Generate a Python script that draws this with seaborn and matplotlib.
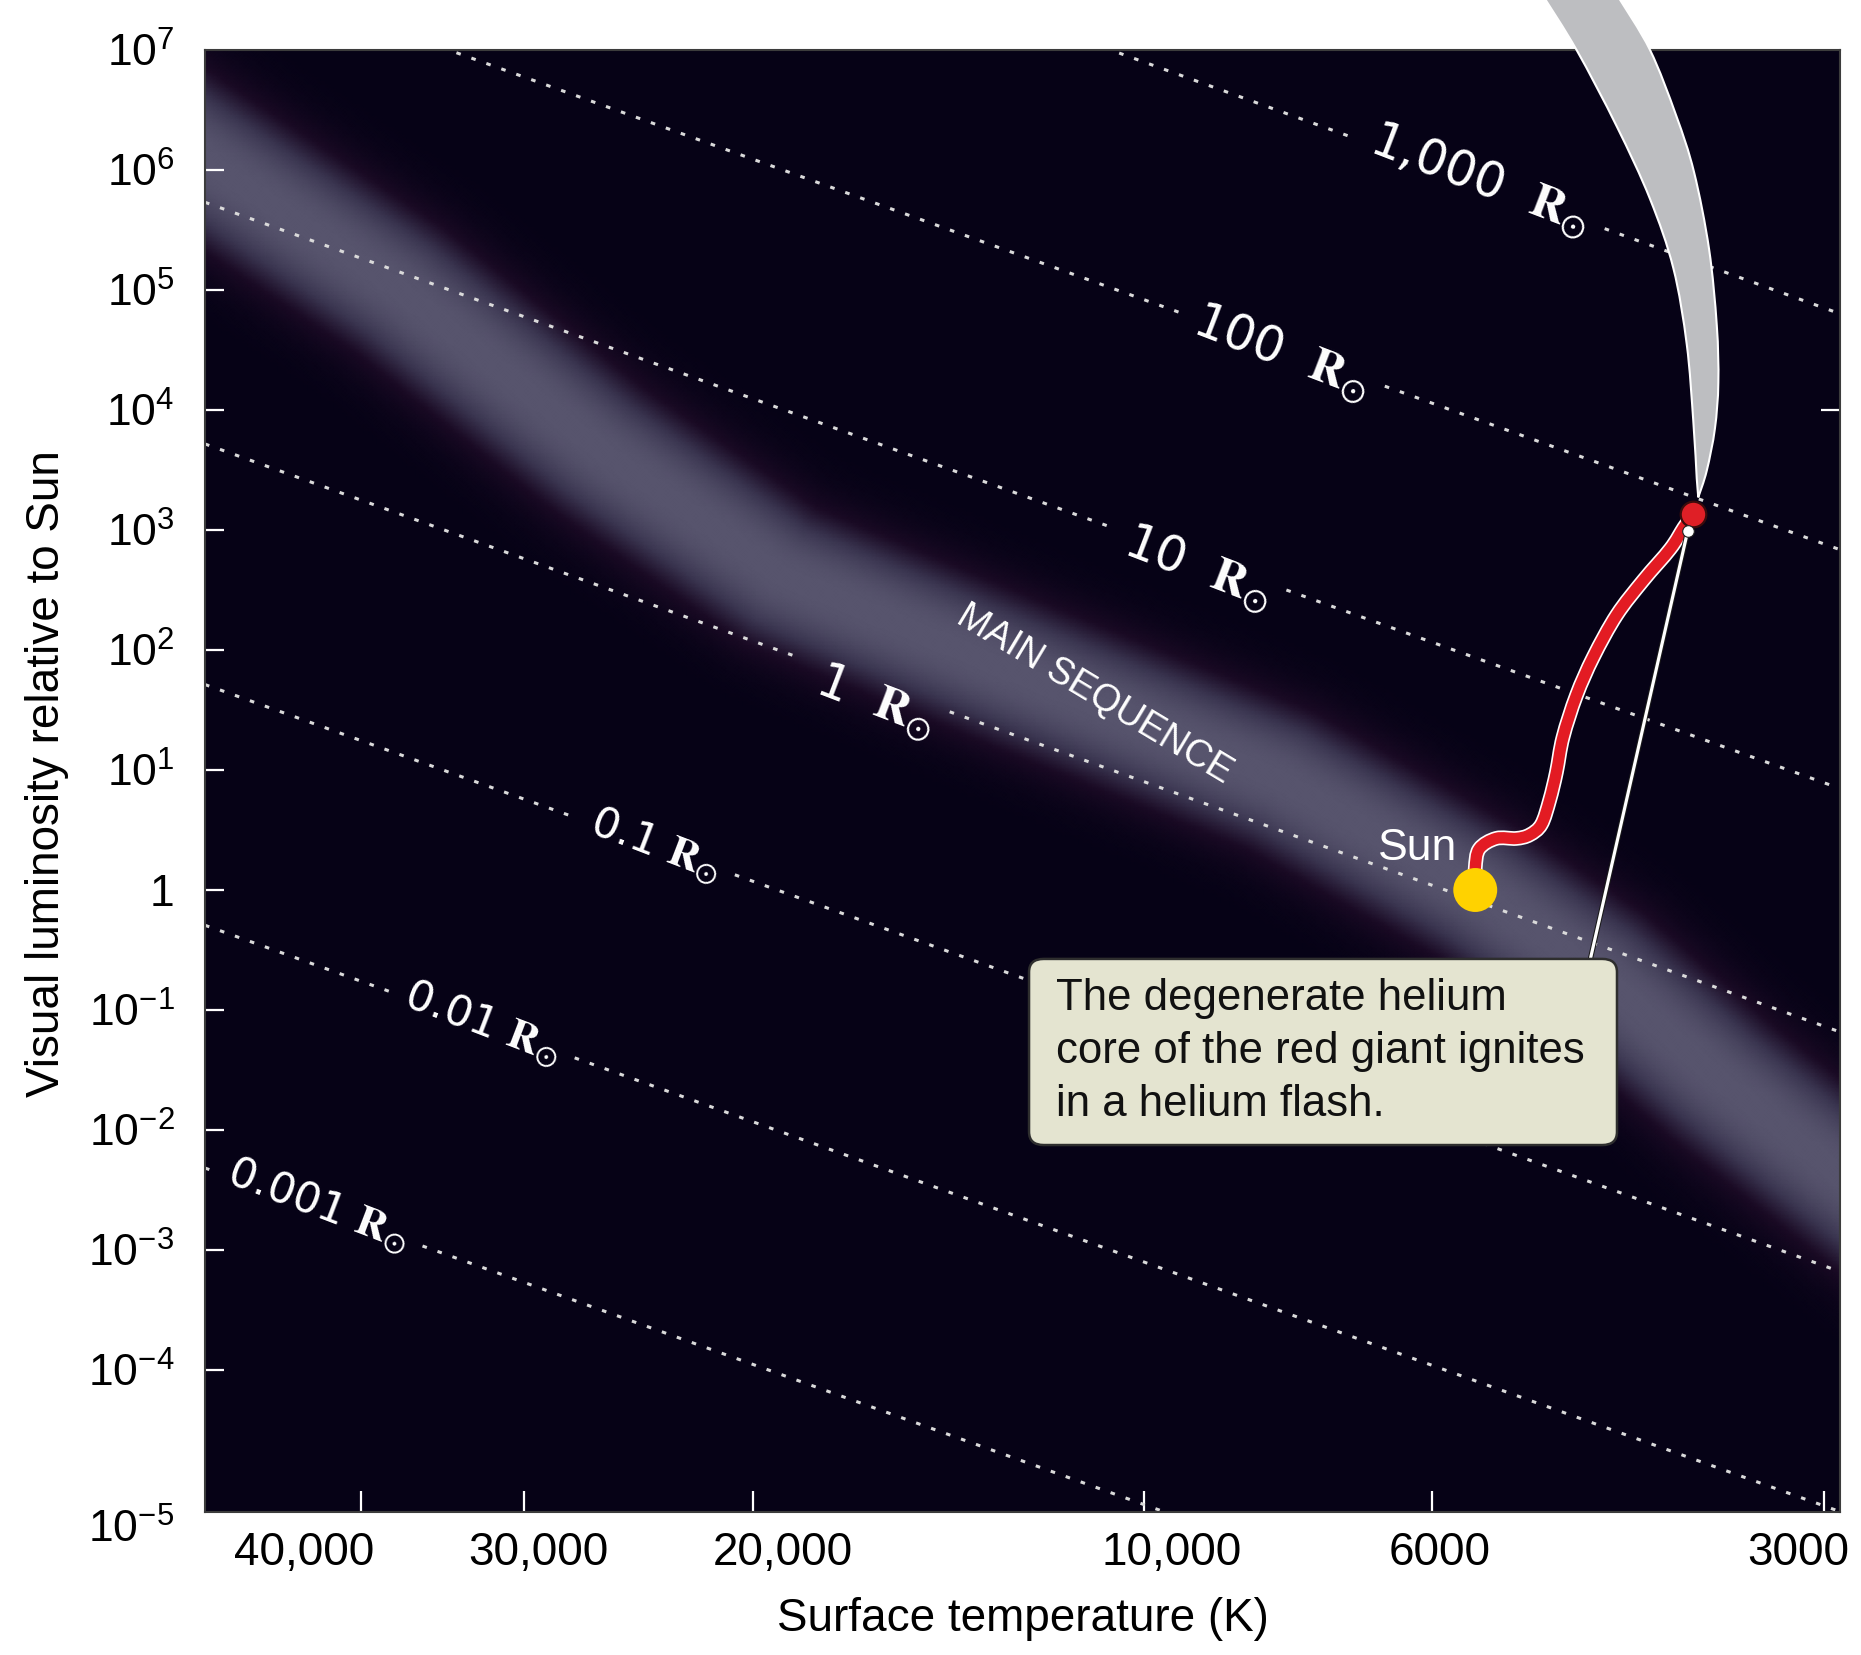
import numpy as np
import matplotlib
matplotlib.use("Agg")
import matplotlib.pyplot as plt
import matplotlib.patheffects as pe
from matplotlib.colors import LinearSegmentedColormap
from matplotlib.patches import FancyBboxPatch, PathPatch
from matplotlib.path import Path
from matplotlib.ticker import NullLocator
from matplotlib.transforms import ScaledTranslation
import seaborn as sns

# ---------------- data ----------------
temp_ticks = [40000, 30000, 20000, 10000, 6000, 3000]
temp_tick_labels = ["40,000", "30,000", "20,000", "10,000", "6000", "3000"]
lum_ticks = [1e6, 1e5, 1e4, 1e3, 1e2, 1e1, 1, 1e-1, 1e-2, 1e-3, 1e-4]
lum_tick_labels = [r"$\mathregular{10^{6}}$", r"$\mathregular{10^{5}}$", r"$\mathregular{10^{4}}$",
                   r"$\mathregular{10^{3}}$", r"$\mathregular{10^{2}}$", r"$\mathregular{10^{1}}$",
                   "1", r"$\mathregular{10^{-1}}$", r"$\mathregular{10^{-2}}$",
                   r"$\mathregular{10^{-3}}$", r"$\mathregular{10^{-4}}$"]
lum_edge_ticks = [1e7, 10 ** -5.18]
lum_edge_labels = [r"$\mathregular{10^{7}}$", r"$\mathregular{10^{-5}}$"]
T_LIMITS = (52770, 2915)
L_LIMITS = (10 ** -5.1833, 1e7)

# lines of constant radius: log10 luminosity at the hot and cool ends of the axis
radius_labels = ["1,000", "100", "10", "1", "0.1", "0.01", "0.001"]
radius_loglum_hot = [9.73, 7.73, 5.731, 3.717, 1.712, -0.294, -2.317]
radius_loglum_cool = [4.802, 2.836, 0.846, -1.183, -3.18, -5.18, -7.2]
radius_label_temp = [5514, 7833, 9089, 16080, 23740, 32250, 43190]
radius_label_lum = [8.26e5, 3.01e4, 482, 36.9, 2.37, 0.078, 0.00237]

# ridge of the main sequence
ms_temp = [75900, 52770, 37360, 26210, 19050, 12240, 7860, 5565, 4460, 3605, 2915, 2357]
ms_lum = [1.68e7, 1.21e6, 1e5, 4640, 422, 57.3, 8.26, 1.0, 0.196, 0.0261, 0.00422, 6.8e-4]

# red-giant / asymptotic-giant region (grey crescent)
giant_outer_temp = [4320, 4081, 3898, 3775, 3676, 3626, 3616, 3638, 3691, 3747]
giant_outer_lum = [2.8e7, 1.0e7, 2.88e6, 9.6e5, 2.2e5, 5.08e4, 1.69e4, 7.0e3, 3.12e3, 1.87e3]
giant_inner_temp = [4930, 4648, 4329, 4081, 3916, 3824, 3780, 3757]
giant_inner_lum = [2.8e7, 1.0e7, 2.31e6, 5.73e5, 1.52e5, 3.52e4, 8.1e3, 2.69e3]

# evolutionary track of the Sun up the red-giant branch
track_temp = [5562, 5562, 5523, 5360, 5173, 5051, 4947, 4875, 4817, 4761, 4649,
              4512, 4329, 4129, 3937, 3845, 3790]
track_lum = [1.0, 1.52, 2.20, 2.69, 2.69, 2.88, 3.52, 5.62, 9.6, 18.8, 41.9,
             87.5, 196, 382, 698, 1043, 1300]

sun_temp, sun_lum = 5562, 1.0
flash_temp, flash_lum = 3780, 1360
core_temp, core_lum = 3817, 990
pointer_temp, pointer_lum = 4536, 0.266

note_text = "The degenerate helium\ncore of the red giant ignites\nin a helium flash."

# ---------------- style ----------------
sns.set_theme(style="white")
plt.rcParams["font.family"] = ["Liberation Sans", "DejaVu Sans"]
plt.rcParams["mathtext.fontset"] = "stix"

BG = "#060216"
W, H = 1861, 1655
fig = plt.figure(figsize=(W / 100, H / 100), dpi=100)
fig.patch.set_facecolor("white")
ax = fig.add_axes([205 / W, 1 - 1512 / H, 1635 / W, 1462 / H])
ax.set_facecolor(BG)
ax.set_xscale("log")
ax.set_yscale("log")
ax.set_xlim(*T_LIMITS)
ax.set_ylim(*L_LIMITS)


def smooth_path(temps, lums):
    """Catmull-Rom curve through the points, as cubic Bezier segments in log space."""
    P = np.column_stack([np.log10(temps), np.log10(lums)])
    n = len(P)
    verts, codes = [P[0]], [Path.MOVETO]
    for i in range(n - 1):
        p0 = P[i - 1] if i > 0 else P[i]
        p1, p2 = P[i], P[i + 1]
        p3 = P[i + 2] if i + 2 < n else P[i + 1]
        verts += [p1 + (p2 - p0) / 6, p2 - (p3 - p1) / 6, p2]
        codes += [Path.CURVE4] * 3
    return np.power(10.0, np.array(verts)), codes


# ---------------- main-sequence glow ----------------
tg = np.geomspace(90000, 2000, 500)
lg = np.geomspace(1e-7, 1e9, 500)
TT, LL = np.meshgrid(tg, lg)
pts = ax.transData.transform(np.column_stack([TT.ravel(), LL.ravel()]))
ridge = ax.transData.transform(np.column_stack([ms_temp, ms_lum]))
dist = np.full(len(pts), np.inf)
for a, b in zip(ridge[:-1], ridge[1:]):
    ab = b - a
    t = np.clip(((pts - a) @ ab) / (ab @ ab), 0, 1)
    proj = a + t[:, None] * ab
    dist = np.minimum(dist, np.hypot(*(pts - proj).T))
glow = np.exp(-(dist / 74.0) ** 2.6).reshape(TT.shape)
glow_cmap = LinearSegmentedColormap.from_list(
    "ms_glow", [BG, "#1a0a24", "#3a3550", "#57546d"])
ax.pcolormesh(TT, LL, glow, cmap=glow_cmap, vmin=0, vmax=1,
              shading="gouraud", zorder=0, rasterized=True)

# ---------------- constant-radius lines with their labels ----------------
radius_texts = []
for lab, t, l in zip(radius_labels, radius_label_temp, radius_label_lum):
    big = float(lab.replace(",", "")) >= 1
    txt = lab + (r"  $\mathbf{R}_{\odot}$" if big else r" $\mathbf{R}_{\odot}$")
    radius_texts.append(ax.text(t, l, txt, rotation=-21, rotation_mode="anchor",
                                ha="center", va="center", color="white",
                                fontsize=35 if big else 31, family=["DejaVu Sans"],
                                zorder=3))

ax.text(10925, 43, "MAIN SEQUENCE", rotation=-31, rotation_mode="anchor",
        ha="center", va="center", color="white", fontsize=27, zorder=3)

fig.canvas.draw()
renderer = fig.canvas.get_renderer()
inv = ax.transData.inverted()
logT_hot, logT_cool = np.log10(T_LIMITS[0]), np.log10(T_LIMITS[1])
for lh, lc, txt in zip(radius_loglum_hot, radius_loglum_cool, radius_texts):
    bb = txt.get_window_extent(renderer)
    gap_hot = inv.transform([[bb.x0 - 7, bb.y0]])[0, 0]
    gap_cool = inv.transform([[bb.x1 + 7, bb.y0]])[0, 0]
    for t0, t1 in [(T_LIMITS[0], gap_hot), (gap_cool, T_LIMITS[1])]:
        seg_T = np.array([t0, t1])
        frac = (np.log10(seg_T) - logT_hot) / (logT_cool - logT_hot)
        seg_L = 10 ** (lh + (lc - lh) * frac)
        sns.lineplot(x=seg_T, y=seg_L, ax=ax, color="#dadada", lw=2.2,
                     linestyle=(0, (1.5, 3.7)), estimator=None, sort=False,
                     legend=False, zorder=2)

# ---------------- giant region ----------------
ov, oc = smooth_path(giant_outer_temp, giant_outer_lum)
iv, ic = smooth_path(giant_inner_temp[::-1], giant_inner_lum[::-1])
giant_path = Path(np.vstack([ov, iv, ov[:1]]),
                  oc + [Path.LINETO] + ic[1:] + [Path.CLOSEPOLY])
ax.add_patch(PathPatch(giant_path, fc="#bdbec1", ec="white", lw=1.5,
                       zorder=4, clip_on=False))

# ---------------- evolutionary track ----------------
tv, tc = smooth_path(track_temp, track_lum)
ax.add_patch(PathPatch(Path(tv, tc), fill=False, ec="#e31b23", lw=8.2,
                       capstyle="round", joinstyle="round", zorder=5,
                       path_effects=[pe.Stroke(linewidth=10.6, foreground="white"),
                                     pe.Normal()]))

ax.plot([core_temp, pointer_temp], [core_lum, pointer_lum], color="white", lw=2.3,
        zorder=6, path_effects=[pe.Stroke(linewidth=3.8, foreground="#1a1a1a"), pe.Normal()])

sns.scatterplot(x=[sun_temp], y=[sun_lum], ax=ax, s=1000, color="#ffd200",
                edgecolor="none", zorder=7, legend=False)
sns.scatterplot(x=[flash_temp], y=[flash_lum], ax=ax, s=340, color="#df1f26",
                edgecolor="#3a0c0c", linewidth=1.6, zorder=7, legend=False)
sns.scatterplot(x=[core_temp], y=[core_lum], ax=ax, s=70, color="white",
                edgecolor="#222222", linewidth=0.8, zorder=7, legend=False)
ax.text(6155, 2.2, "Sun", color="white", fontsize=32, ha="center", va="center", zorder=7)

# ---------------- callout ----------------
ax.add_patch(FancyBboxPatch((0.504, 0.251), 0.3596, 0.1273,
                            boxstyle="round,pad=0,rounding_size=0.009",
                            transform=ax.transAxes, fc="#e4e4d0", ec="#2e2e2e",
                            lw=1.8, zorder=8, clip_on=False))
ax.text(0.5205, 0.315, note_text, transform=ax.transAxes, ha="left", va="center",
        fontsize=31.5, color="#111111", linespacing=1.38, zorder=9)

# ---------------- axes ----------------
ax.set_xticks(temp_ticks, labels=temp_tick_labels)
ax.xaxis.set_minor_locator(NullLocator())
ax.set_yticks(lum_ticks, labels=lum_tick_labels)
ax.set_yticks(lum_edge_ticks, labels=lum_edge_labels, minor=True)

ax.tick_params(axis="x", which="major", bottom=True, direction="in", length=15,
               width=1.6, color="white", pad=14, labelsize=33, labelcolor="black")
ax.tick_params(axis="y", which="major", left=True, direction="in", length=14,
               width=1.6, color="white", pad=22, labelsize=32, labelcolor="black")
ax.tick_params(axis="y", which="minor", left=True, length=0, pad=22, labelsize=32,
               labelcolor="black")

# nudge the temperature labels to sit as on the printed scale
label_shift_px = [-57, 15, 30, 28, 7, -26]
for lab, dx in zip(ax.get_xticklabels(), label_shift_px):
    lab.set_transform(lab.get_transform() + ScaledTranslation(dx / 100, 0, fig.dpi_scale_trans))
edge_labels = ax.yaxis.get_ticklabels(minor=True)
edge_labels[1].set_transform(edge_labels[1].get_transform()
                             + ScaledTranslation(0, -14 / 100, fig.dpi_scale_trans))

ax.set_xlabel("Surface temperature (K)", fontsize=33, color="black")
ax.set_ylabel("Visual luminosity relative to Sun", fontsize=33, color="black")
ax.xaxis.set_label_coords(0.5, -0.058)
ax.yaxis.set_label_coords(-0.083, 0.505)

for s in ax.spines.values():
    s.set_color("#3c3c3c")
    s.set_linewidth(1.5)

sec = ax.secondary_yaxis("right")
sec.set_yticks([1e4], labels=[""])
sec.yaxis.set_minor_locator(NullLocator())
sec.tick_params(right=True, direction="in", length=14, width=1.6, color="white")
sec.spines["right"].set_color("#3c3c3c")

fig.savefig("out.png", dpi=100, facecolor="white")
